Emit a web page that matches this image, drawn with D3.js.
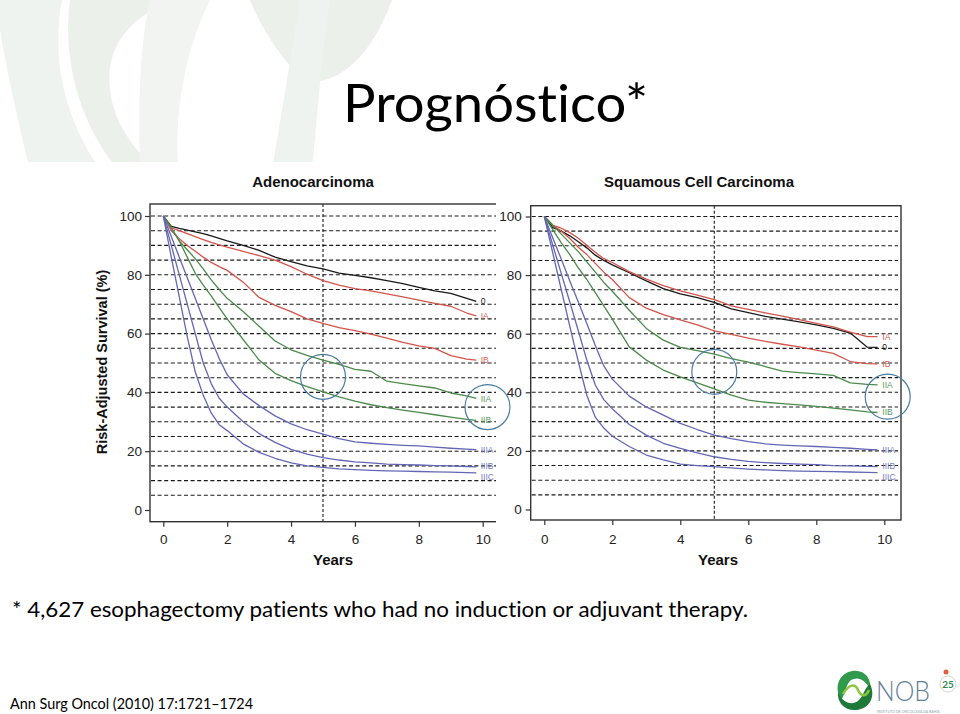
<!DOCTYPE html>
<html><head><meta charset="utf-8">
<script src="https://cdn.jsdelivr.net/npm/d3@7"></script>
<style>html,body{margin:0;padding:0;background:#fff;}svg{display:block;}text{font-variant-ligatures:none;font-feature-settings:"liga" 0,"clig" 0;}</style>
</head><body>
<svg id="c" width="960" height="714"></svg>
<script>
// ---------- data ----------
const years = [0,0.25,0.5,0.75,1,1.25,1.5,1.75,2,2.5,3,3.5,4,4.5,5,5.5,6,6.5,7,7.5,8,8.5,9,9.5,9.8];
const stages = ["0","IA","IB","IIA","IIB","IIIA","IIIB","IIIC"];
const xTicks = [0,2,4,6,8,10];
const yTicks = [0,20,40,60,80,100];
const gridLevels = [5,10,15,20,25,30,35,40,45,50,55,60,65,70,75,80,85,90,95,100];

const adeno0    = [100,96.5,95.8,95.2,94.6,94,93.2,92.4,91.5,90,88.3,86,84.5,83,82,80.6,79.8,79,78,77,75.7,74.5,73.7,72,71];
const adenoIA   = [100,96,95,94,93,92,91,90.2,89.4,88,86.5,85,82.8,80.2,78,76.5,75.3,74.5,73.5,72.5,71.4,70.3,69.3,67,66];
const adenoIB   = [100,95,92.3,90,88,86,84.2,82.8,81.5,77.5,72.3,69.6,67.5,65,63.5,62,61,59.8,58.5,57,55.8,55,52.5,51.3,51];
const adenoIIA  = [100,96,91.5,88.5,85.5,82,78.3,75,72,67.5,62.5,57.5,54.5,52.6,51,49.5,47.8,47.2,43.8,43,42.2,41.5,39.8,38.8,38];
const adenoIIB  = [100,96,91.5,86,80.5,76.5,72.8,68.8,65,58,51,46.5,44,42,40.2,38.5,37,35.8,34.8,34,33.2,32.4,31.6,30.8,30.5];
const adenoIIIA = [100,93,86,79,72,65,58,51.5,46,39.5,35.5,32,29.3,27.3,25.8,24.3,23.2,22.7,22.3,22,21.8,21.4,21,20.7,20.5];
const adenoIIIB = [100,90,80,70,60,50,43,38,35,30,26,23,20.6,19,17.8,17,16.4,16,15.6,15.4,15.3,15.1,15,14.8,14.7];
const adenoIIIC = [100,86,72.5,59,47,39,33,29,27,22.5,19.6,17.6,16,15,14.5,14,13.7,13.5,13.3,13.2,13.1,13,12.9,12.7,12.6];

const squam0    = [100,96.2,95,93.4,91.4,89.3,86.8,85,83.5,80.8,78,75.4,73.6,72.3,70.7,68.5,67.2,65.9,65,64,63,61.8,60.2,55.4,55.3];
const squamIA   = [100,97,96,94.5,92.6,90.2,87.8,85.6,84.3,81.2,78.6,76.4,74.6,73.2,71.6,69.5,68.3,67.1,66,64.8,63.5,62.3,60.5,59,59];
const squamIB   = [100,97,95,92.5,89.5,87,84,81,78.5,72.3,68.7,66.5,64.7,63,61,59.8,58.5,57.4,56.4,55.5,54.4,53.3,50.5,49.8,49.7];
const squamIIA  = [100,97,94,91,88,84.5,81,77.5,74.5,68,61.8,57.8,55.3,54.2,53,51.5,50.3,48.8,47.2,46.7,46.3,45.8,43.2,42.7,42.5];
const squamIIB  = [100,95.5,91,87,82.5,78.5,74,69.5,65,55.5,51,47.6,45.3,43.2,41.2,39,37.3,36.6,36.1,35.7,35.2,34.6,34,33.3,33.1];
const squamIIIA = [100,92.7,85.4,78,70.8,63.5,56,49,44.5,38.7,35,32.2,29.4,27.3,25.4,24.2,23.2,22.4,22,21.7,21.5,21.2,20.9,20.5,20.3];
const squamIIIB = [100,90.2,80.5,70.8,61,51,42.5,37.5,34.4,29,25.4,22.6,20.9,19.3,18,17.1,16.4,16,15.7,15.5,15.3,15,14.9,14.7,14.6];
const squamIIIC = [100,87.5,75,62.5,50.5,39,31.5,27.8,25,21.5,18.6,16.9,15.5,15,14.6,14.2,13.8,13.5,13.3,13.1,13,12.9,12.8,12.7,12.6];

const adenoSeries = [adeno0,adenoIA,adenoIB,adenoIIA,adenoIIB,adenoIIIA,adenoIIIB,adenoIIIC];
const squamSeries = [squam0,squamIA,squamIB,squamIIA,squamIIB,squamIIIA,squamIIIB,squamIIIC];

// ---------- styles ----------
const stageColors = ["#1a1a1a","#d2544c","#d2544c","#4b8a4b","#4b8a4b","#6466b4","#6466b4","#6466b4"];
const labelColors = ["#1a1a1a","#d8625a","#d8625a","#5a9a5a","#5a9a5a","#7a7cc4","#7a7cc4","#7a7cc4"];
const labelDy = [0,0,0,0.5,0,0,-0.5,4];

const svg = d3.select("#c");

// ---------- background watermark ----------
const wm = svg.append("g");
wm.append("path").attr("d","M0,0 L62,0 C52,55 62,110 95,162 L28,162 C14,105 4,55 0,30 Z").attr("fill","#eff3ef");
wm.append("path").attr("d","M70,0 L175,0 C120,20 95,60 118,120 C128,140 140,155 150,162 L112,162 C80,120 62,60 70,0 Z").attr("fill","#ebf0eb");
wm.append("path").attr("d","M150,0 L210,0 C185,50 175,110 178,162 L140,162 C138,100 140,45 150,0 Z").attr("fill","#f1f4f1");
wm.append("path").attr("d","M250,0 L392,0 C372,55 340,85 305,82 C282,60 262,30 250,0 Z").attr("fill","#ebf0eb");
wm.append("path").attr("d","M300,0 L330,0 C322,50 318,110 312,170 L272,170 C282,110 292,50 300,0 Z").attr("fill","#eff3ef");
svg.append("rect").attr("x",40).attr("y",162).attr("width",920).attr("height",430).attr("fill","#fff");

// ---------- titles ----------
svg.append("text").attr("x",343).attr("y",122).attr("font-family","Lato, 'Open Sans', sans-serif")
  .attr("font-size",52).attr("textLength",305).attr("lengthAdjust","spacingAndGlyphs").attr("fill","#000")
  .text("Prognóstico*");

svg.append("text").attr("x",12).attr("y",617).attr("font-family","Lato, 'Open Sans', sans-serif")
  .attr("font-size",22).attr("textLength",736).attr("lengthAdjust","spacingAndGlyphs").attr("fill","#000")
  .text("* 4,627 esophagectomy patients who had no induction or adjuvant therapy.");

svg.append("text").attr("x",10).attr("y",709).attr("font-family","Lato, 'Open Sans', sans-serif")
  .attr("font-size",15).attr("textLength",243).attr("lengthAdjust","spacingAndGlyphs").attr("fill","#000")
  .text("Ann Surg Oncol (2010) 17:1721\u20131724");

// ---------- panels ----------
const chartFont = "'Liberation Sans', Arial, sans-serif";

function panel(cfg){
  const g = svg.append("g");
  if (cfg.clipRight){
    const id = "clip"+cfg.name;
    svg.append("clipPath").attr("id",id).append("rect").attr("x",0).attr("y",0).attr("width",cfg.clipRight).attr("height",714);
    g.attr("clip-path",`url(#${id})`);
  }
  const x = d3.scaleLinear().domain([0,10]).range([cfg.x0, cfg.x10]);
  const y = d3.scaleLinear().domain([0,100]).range([cfg.y0, cfg.y100]);

  g.append("g").selectAll("line").data(gridLevels).join("line")
    .attr("x1",cfg.left+1).attr("x2",cfg.right-3).attr("y1",d=>y(d)).attr("y2",d=>y(d))
    .attr("stroke","#1a1a1a").attr("stroke-width",1.1).attr("stroke-dasharray","4,2.6");
  g.append("line").attr("x1",x(5)).attr("x2",x(5)).attr("y1",cfg.top).attr("y2",cfg.bottom)
    .attr("stroke","#1a1a1a").attr("stroke-width",1.1).attr("stroke-dasharray","3,2");

  g.append("rect").attr("x",cfg.left).attr("y",cfg.top).attr("width",cfg.right-cfg.left).attr("height",cfg.bottom-cfg.top)
    .attr("fill","none").attr("stroke","#333").attr("stroke-width",1.4);

  const ya = g.append("g").attr("transform",`translate(${cfg.left},0)`)
    .call(d3.axisLeft(y).tickValues(yTicks).tickSize(5).tickPadding(cfg.yPad));
  const xa = g.append("g").attr("transform",`translate(0,${cfg.bottom})`)
    .call(d3.axisBottom(x).tickValues(xTicks).tickSize(5).tickPadding(cfg.xPad));
  [ya,xa].forEach(a=>{
    a.select(".domain").remove();
    a.selectAll("line").attr("stroke","#333").attr("stroke-width",1.2);
    a.selectAll("text").attr("font-family",chartFont).attr("font-size",13.5).attr("fill","#222");
  });

  const line = d3.line().x((d,i)=>x(years[i])).y(d=>y(d));
  g.append("g").selectAll("path").data(cfg.series).join("path")
    .attr("d",d=>line(d)).attr("fill","none")
    .attr("stroke",(d,i)=>stageColors[i]).attr("stroke-width",1.3).attr("stroke-linejoin","round");

  g.append("g").selectAll("text").data(cfg.series).join("text")
    .attr("x",x(10)-2).attr("y",(d,i)=>y(d[d.length-1])+labelDy[i]).attr("dy","0.35em")
    .attr("font-family",chartFont).attr("font-size",8.5).attr("fill",(d,i)=>labelColors[i])
    .text((d,i)=>stages[i]);

  svg.append("text").attr("x",cfg.titleX).attr("y",187).attr("text-anchor","middle")
    .attr("font-family",chartFont).attr("font-weight","bold").attr("font-size",15).attr("fill","#111")
    .text(cfg.title);
  svg.append("text").attr("x",cfg.yearsX).attr("y",565).attr("text-anchor","middle")
    .attr("font-family",chartFont).attr("font-weight","bold").attr("font-size",15).attr("fill","#111")
    .text("Years");
  return {x,y};
}

const A = panel({name:"A", left:150, right:500, top:204, bottom:521.7, x0:163.3, x10:482.7, y0:510, y100:216,
  yPad:3, xPad:8, series:adenoSeries, title:"Adenocarcinoma", titleX:313, yearsX:333, clipRight:496});

svg.append("rect").attr("x",496).attr("y",190).attr("width",8).attr("height",340).attr("fill","#fff");

const S = panel({name:"S", left:530.7, right:901, top:205.7, bottom:520, x0:544.3, x10:884.3, y0:509.5, y100:216.5,
  yPad:4, xPad:9, series:squamSeries, title:"Squamous Cell Carcinoma", titleX:699, yearsX:718});

svg.append("text").attr("transform","translate(107,362) rotate(-90)").attr("text-anchor","middle")
  .attr("font-family",chartFont).attr("font-weight","bold").attr("font-size",14.5).attr("fill","#111")
  .text("Risk-Adjusted Survival (%)");

const circ = [[A,5,45.3],[A,10.15,35],[S,5.0,47],[S,10.1,38.5]];
svg.append("g").selectAll("circle").data(circ).join("circle")
  .attr("cx",d=>d[0].x(d[1])).attr("cy",d=>d[0].y(d[2])).attr("r",22.5)
  .attr("fill","none").attr("stroke","#4a7ba3").attr("stroke-width",1.2);

// ---------- logo ----------
const logo = svg.append("g");
logo.append("path").attr("d","M841,700 C834,688 838,674 852,671 C864,669 872,678 870,690 C866,680 858,676 851,680 C845,685 846,694 841,700 Z").attr("fill","#2f9a4c");
logo.append("path").attr("d","M870,684 C876,696 870,709 856,710 C845,711 837,703 838,692 C842,702 851,706 858,701 C864,696 864,688 870,684 Z").attr("fill","#1f7a3a");
logo.append("path").attr("d","M843,694 C849,684 855,683 858,690 C861,697 866,697 869,690").attr("fill","none").attr("stroke","#8cc63f").attr("stroke-width",2.5);
logo.append("text").attr("x",876).attr("y",701).attr("font-family","Lato, sans-serif").attr("font-weight",300)
  .attr("font-size",28).attr("textLength",54).attr("lengthAdjust","spacingAndGlyphs").attr("fill","#5f7f99").text("NOB");
logo.append("text").attr("x",877).attr("y",713).attr("font-family","Lato, sans-serif")
  .attr("font-size",3.5).attr("fill","#8aa").text("INSTITUTO DE ONCOLOGIA DA BAHIA");
logo.append("circle").attr("cx",948).attr("cy",684).attr("r",8).attr("fill","none").attr("stroke","#cfd8cf").attr("stroke-width",1);
logo.append("text").attr("x",948).attr("y",688).attr("text-anchor","middle").attr("font-family","Lato, sans-serif")
  .attr("font-weight","bold").attr("font-size",10).attr("fill","#2f8a4a").text("25");
logo.append("circle").attr("cx",946).attr("cy",672).attr("r",2.5).attr("fill","#e06040");
</script>
</body></html>
